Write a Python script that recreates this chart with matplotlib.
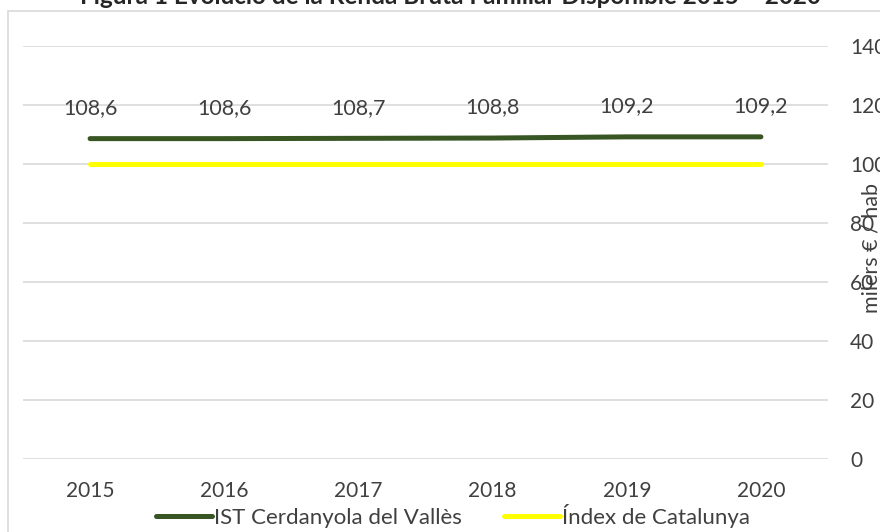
import matplotlib
matplotlib.use("Agg")
import matplotlib.pyplot as plt
from matplotlib.patches import Rectangle

plt.rcParams['font.family'] = ['Lato', 'DejaVu Sans']

# Dades
anys = ['2015', '2016', '2017', '2018', '2019', '2020']
ist_cerdanyola = [108.6, 108.6, 108.7, 108.8, 109.2, 109.2]
index_catalunya = [100, 100, 100, 100, 100, 100]
y_ticks = [0, 20, 40, 60, 80, 100, 120, 140]

text_color = '#404040'
grid_color = '#d9d9d9'

fig = plt.figure(figsize=(8.8, 5.32), dpi=100)
ax = fig.add_axes([23/880, 1 - 459/532, (828 - 23)/880, (459 - 46)/532])

x = list(range(len(anys)))
ax.plot(x, ist_cerdanyola, color='#375623', lw=3.6, solid_capstyle='round',
        label='IST Cerdanyola del Vallès', zorder=3)
ax.plot(x, index_catalunya, color='#ffff00', lw=3.6, solid_capstyle='round',
        label='Índex de Catalunya', zorder=3)

# etiquetes de dades
for xi, v in zip(x, ist_cerdanyola):
    ax.annotate(f'{v:.1f}'.replace('.', ','), (xi, v), xytext=(0, 22),
                textcoords='offset points', ha='center', va='center',
                fontsize=15.5, color=text_color, zorder=4)

ax.set_xlim(-0.5, len(anys) - 0.5)
ax.set_ylim(0, 140)
ax.set_xticks(x)
ax.set_xticklabels(anys)
ax.set_yticks(y_ticks)
ax.yaxis.tick_right()
ax.tick_params(axis='both', length=0, labelsize=15, labelcolor=text_color)
ax.tick_params(axis='y', pad=16)
ax.tick_params(axis='x', pad=16)
ax.grid(axis='y', color=grid_color, lw=1.2)
ax.set_axisbelow(True)
for s in ax.spines.values():
    s.set_visible(False)

# eix secundari: etiqueta
fig.text(871/880, 1 - 248/532, 'milers € / hab', rotation=90, ha='center',
         va='center', fontsize=15.5, color=text_color)

# títol (retallat a dalt)
fig.text(450/880, 1 - 4/532, 'Figura 1 Evolució de la Renda Bruta Familiar Disponible 2015 – 2020',
         ha='center', va='baseline', fontsize=17.5, fontweight='bold', color='#262626')

# vora del gràfic
fig.patches.append(Rectangle((8/880, -0.1), 1.2, 1 - 11/532 + 0.1,
                             transform=fig.transFigure, fill=False,
                             edgecolor=grid_color, lw=1.2))

leg = fig.legend(loc='center', bbox_to_anchor=(453/880, 1 - 516/532), ncol=2,
                 frameon=False, fontsize=16, handlelength=2.5, handletextpad=0.1,
                 columnspacing=1.9, labelcolor=text_color)

fig.savefig('out.png', dpi=100)
